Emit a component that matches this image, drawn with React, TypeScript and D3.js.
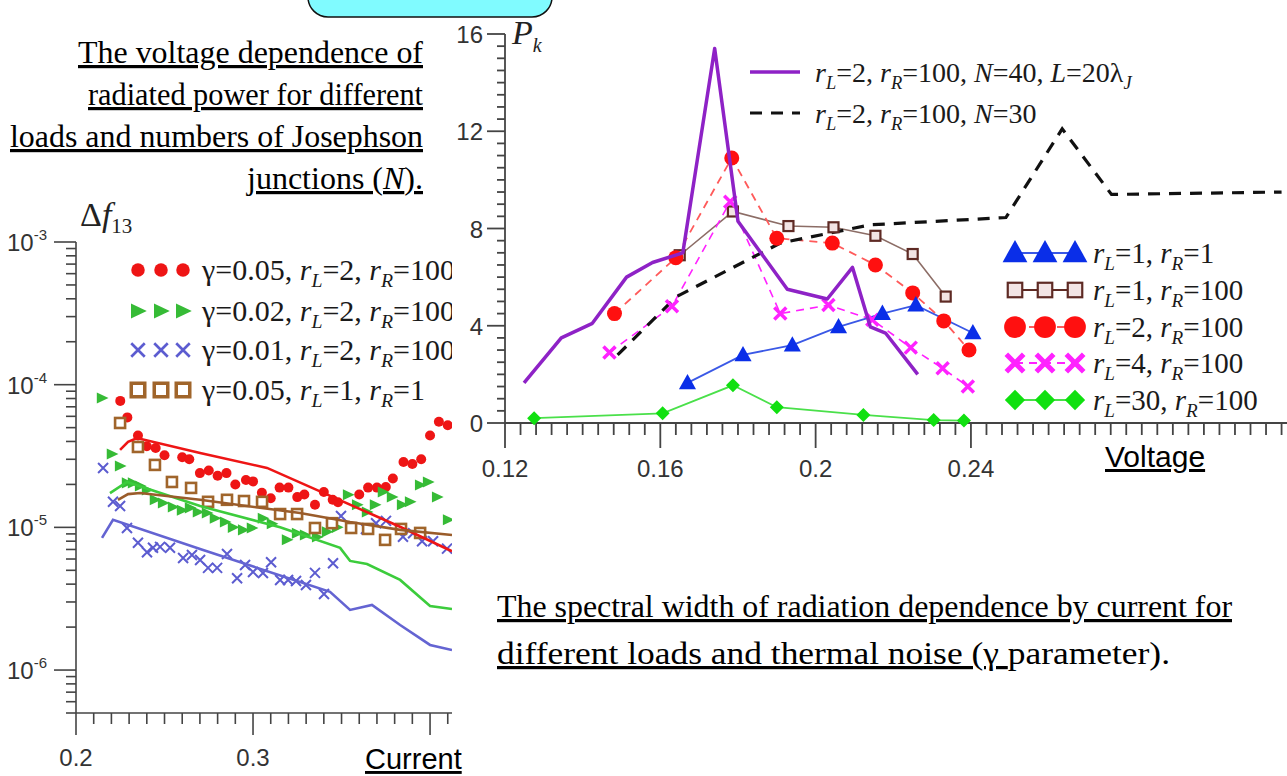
import * as d3 from "d3";

type P = [number, number];

// ---------- right panel: radiated power P_k vs voltage ----------
const pkN40: P[] = [
  [0.1249, 1.65], [0.1345, 3.5], [0.1425, 4.1], [0.1513, 6.0], [0.158, 6.6], [0.1658, 7.0],
  [0.174, 15.4], [0.18, 8.3], [0.1927, 5.5], [0.203, 5.1], [0.2095, 6.4], [0.2141, 3.95],
  [0.218, 3.7], [0.2263, 2.0],
];
const pkN30: P[] = [
  [0.149, 2.8], [0.1642, 5.2], [0.1909, 7.4], [0.2141, 8.15], [0.249, 8.45],
  [0.2635, 12.1], [0.2762, 9.4], [0.32, 9.5],
];
const pkRL1RR1: P[] = [
  [0.167, 1.65], [0.1813, 2.8], [0.194, 3.2], [0.2059, 3.95], [0.2172, 4.5], [0.2258, 4.85], [0.2405, 3.7],
];
const pkRL1RR100: P[] = [
  [0.165, 6.9], [0.1787, 8.7], [0.193, 8.1], [0.2046, 8.05], [0.2154, 7.7], [0.225, 6.95], [0.2335, 5.2],
];
const pkRL2RR100: P[] = [
  [0.1482, 4.5], [0.164, 6.8], [0.1784, 10.9], [0.19, 7.6], [0.2043, 7.4], [0.2154, 6.5],
  [0.225, 5.35], [0.233, 4.2], [0.2395, 3.0],
];
const pkRL4RR100: P[] = [
  [0.1469, 2.9], [0.163, 4.8], [0.178, 9.1], [0.1909, 4.5], [0.2033, 4.85], [0.2146, 4.25],
  [0.2245, 3.1], [0.2327, 2.25], [0.2392, 1.5],
];
const pkRL30RR100: P[] = [
  [0.1275, 0.2], [0.1606, 0.4], [0.1787, 1.55], [0.19, 0.65], [0.2123, 0.33], [0.2304, 0.12], [0.2382, 0.1],
];

const pkYTicks = [0, 4, 8, 12, 16];
const pkXTicks = [0.12, 0.16, 0.2, 0.24];

// ---------- left panel: spectral width vs current (log) ----------
const dfG05Dots: P[] = [
  [0.225, 7.7e-5], [0.229, 5.9e-5], [0.235, 4.4e-5], [0.24, 3.7e-5], [0.245, 3.6e-5], [0.25, 3.2e-5],
  [0.26, 3.1e-5], [0.264, 3.0e-5], [0.27, 2.4e-5], [0.275, 2.5e-5], [0.28, 2.3e-5], [0.285, 2.4e-5],
  [0.29, 2.0e-5], [0.296, 2.15e-5], [0.3, 2.1e-5], [0.305, 1.75e-5], [0.31, 1.6e-5], [0.315, 1.9e-5],
  [0.32, 1.9e-5], [0.325, 1.63e-5], [0.329, 1.7e-5], [0.335, 1.44e-5], [0.34, 1.77e-5], [0.345, 1.56e-5],
  [0.348, 1.5e-5], [0.36, 1.7e-5], [0.365, 1.9e-5], [0.37, 1.9e-5], [0.375, 1.92e-5], [0.379, 2.2e-5],
  [0.385, 2.87e-5], [0.39, 2.78e-5], [0.395, 3.0e-5], [0.4, 4.4e-5], [0.405, 5.5e-5], [0.41, 5.2e-5],
];
const dfG02Dots: P[] = [
  [0.2147, 8.07e-5], [0.2203, 3.27e-5], [0.2249, 2.69e-5], [0.2288, 2.05e-5], [0.2322, 2.05e-5],
  [0.2362, 1.95e-5], [0.2401, 1.83e-5], [0.2446, 1.56e-5], [0.2492, 1.48e-5], [0.2548, 1.39e-5],
  [0.2599, 1.32e-5], [0.2644, 1.37e-5], [0.2689, 1.28e-5], [0.274, 1.26e-5], [0.2785, 1.16e-5],
  [0.2842, 1.09e-5], [0.2887, 1.0e-5], [0.2944, 9.6e-6], [0.2994, 9.9e-6], [0.3056, 1.16e-5],
  [0.3107, 1.06e-5], [0.3192, 8.2e-6], [0.3249, 9.1e-6], [0.3294, 8.85e-6], [0.3362, 8.57e-6],
  [0.3418, 9.3e-6], [0.3475, 1.0e-5], [0.3537, 1.69e-5], [0.3588, 1.44e-5], [0.3644, 1.28e-5],
  [0.3689, 1.44e-5], [0.3734, 1.77e-5], [0.3785, 1.63e-5], [0.3842, 1.44e-5], [0.3887, 1.51e-5],
  [0.3944, 1.98e-5], [0.3989, 2.08e-5], [0.404, 1.63e-5], [0.4102, 1.13e-5],
];
const dfG01Dots: P[] = [
  [0.2153, 2.61e-5], [0.2209, 1.51e-5], [0.2249, 1.41e-5], [0.2288, 9.9e-6], [0.235, 7.8e-6],
  [0.2401, 6.7e-6], [0.2435, 7.2e-6], [0.2475, 7.3e-6], [0.2531, 7.2e-6], [0.2605, 6.1e-6],
  [0.2655, 6.4e-6], [0.2701, 5.9e-6], [0.2746, 5.2e-6], [0.2797, 5.2e-6], [0.2853, 6.5e-6],
  [0.291, 4.4e-6], [0.2955, 5.45e-6], [0.3, 4.87e-6], [0.3056, 4.79e-6], [0.3102, 5.7e-6],
  [0.3153, 4.28e-6], [0.3198, 4.28e-6], [0.3243, 4.21e-6], [0.3299, 3.95e-6], [0.335, 4.8e-6],
  [0.3401, 3.41e-6], [0.3452, 5.6e-6], [0.3497, 1.2e-5], [0.3554, 9.9e-6], [0.3638, 9.75e-6],
  [0.3695, 1.07e-5], [0.3751, 1.11e-5], [0.3847, 8.6e-6], [0.3904, 9.1e-6], [0.3955, 8.0e-6],
  [0.4017, 8.0e-6], [0.4096, 7.1e-6],
];
const dfG05R1Dots: P[] = [
  [0.2249, 5.39e-5], [0.235, 3.66e-5], [0.2446, 2.74e-5], [0.2542, 2.08e-5], [0.265, 1.89e-5],
  [0.2746, 1.51e-5], [0.2853, 1.56e-5], [0.2949, 1.53e-5], [0.3051, 1.51e-5], [0.3153, 1.24e-5],
  [0.3249, 1.24e-5], [0.335, 9.9e-6], [0.3446, 1.07e-5], [0.3554, 9.9e-6], [0.365, 9.75e-6],
  [0.3746, 8.17e-6], [0.3836, 9.75e-6], [0.3944, 9.14e-6],
];
const dfG05Line: P[] = [
  [0.2249, 3.49e-5], [0.2294, 3.97e-5], [0.2345, 4.23e-5], [0.2701, 3.32e-5], [0.3079, 2.61e-5],
  [0.3452, 1.63e-5], [0.383, 1.01e-5], [0.4124, 6.8e-6],
];
const dfG02Line: P[] = [
  [0.2192, 1.74e-5], [0.2288, 2.08e-5], [0.2701, 1.41e-5], [0.3153, 1.0e-5], [0.3492, 7.18e-6],
  [0.3548, 5.82e-6], [0.3644, 5.54e-6], [0.3831, 4.28e-6], [0.4, 2.81e-6], [0.4124, 2.68e-6],
];
const dfG01Line: P[] = [
  [0.2147, 8.43e-6], [0.2209, 1.13e-5], [0.2701, 7.06e-6], [0.3435, 3.53e-6], [0.3548, 2.64e-6],
  [0.3672, 2.86e-6], [0.3831, 2.07e-6], [0.4, 1.5e-6], [0.4124, 1.38e-6],
];
const dfG05R1Line: P[] = [
  [0.2237, 1.56e-5], [0.2294, 1.71e-5], [0.2362, 1.74e-5], [0.2701, 1.56e-5], [0.3266, 1.26e-5],
  [0.3548, 1.09e-5], [0.3831, 9.6e-6], [0.4124, 8.85e-6],
];

const dfXTicks = [0.2, 0.3];
const dfDecades = [-6, -5, -4, -3];

const SERIF = "'Liberation Serif', 'Times New Roman', serif";
const SANS = "'Liberation Sans', Arial, sans-serif";

// scales
const xR = d3.scaleLinear().domain([0.12, 0.3214]).range([505, 1287]);
const yR = d3.scaleLinear().domain([0, 16]).range([423, 34]);
const xL = d3.scaleLinear().domain([0.2, 0.4124]).range([76, 452]);
const yL = d3.scaleLog().domain([5e-7, 1e-3]).range([713, 242]);

type Part = [string, string?];

function Rich({ x, y, parts, size, anchor = "start", under = false }: {
  x: number; y: number; parts: Part[]; size: number; anchor?: string; under?: boolean;
}) {
  let shifted = false;
  const spans = parts.map((p, i) => {
    const [t, kind = ""] = p;
    const sub = kind.includes("s");
    let dy = 0;
    if (sub && !shifted) { dy = size * 0.24; shifted = true; }
    else if (!sub && shifted) { dy = -size * 0.24; shifted = false; }
    return (
      <tspan key={i} dy={dy || undefined} fontStyle={kind.includes("i") ? "italic" : undefined}
        fontSize={sub ? size * 0.66 : undefined}>{t}</tspan>
    );
  });
  return (
    <text x={x} y={y} fontFamily={SERIF} fontSize={size} textAnchor={anchor} fill="#1a1a1a"
      style={under ? { textDecoration: "underline" } : undefined}>{spans}</text>
  );
}

const tri = (s: number) => `M0,${-s}L${s * 0.95},${s * 0.7}L${-s * 0.95},${s * 0.7}Z`;
const triR = (s: number) => `M${-s * 0.8},${-s * 0.85}L${s},0L${-s * 0.8},${s * 0.85}Z`;
const diamond = (s: number) => `M0,${-s}L${s},0L0,${s}L${-s},0Z`;
const cross = (s: number) => `M${-s},${-s}L${s},${s}M${-s},${s}L${s},${-s}`;

const lineR = d3.line<P>().x((d) => xR(d[0])).y((d) => yR(d[1]));
const lineL = d3.line<P>().x((d) => xL(d[0])).y((d) => yL(d[1]));

const legendRight = [
  { parts: [["r", "i"], ["L", "is"], ["=1, "], ["r", "i"], ["R", "is"], ["=1"]] as Part[], kind: "tri" },
  { parts: [["r", "i"], ["L", "is"], ["=1, "], ["r", "i"], ["R", "is"], ["=100"]] as Part[], kind: "sq" },
  { parts: [["r", "i"], ["L", "is"], ["=2, "], ["r", "i"], ["R", "is"], ["=100"]] as Part[], kind: "circ" },
  { parts: [["r", "i"], ["L", "is"], ["=4, "], ["r", "i"], ["R", "is"], ["=100"]] as Part[], kind: "x" },
  { parts: [["r", "i"], ["L", "is"], ["=30, "], ["r", "i"], ["R", "is"], ["=100"]] as Part[], kind: "dia" },
];
const legendLeft = [
  { parts: [["γ=0.05, "], ["r", "i"], ["L", "is"], ["=2, "], ["r", "i"], ["R", "is"], ["=100"]] as Part[], kind: "circ" },
  { parts: [["γ=0.02, "], ["r", "i"], ["L", "is"], ["=2, "], ["r", "i"], ["R", "is"], ["=100"]] as Part[], kind: "tri" },
  { parts: [["γ=0.01, "], ["r", "i"], ["L", "is"], ["=2, "], ["r", "i"], ["R", "is"], ["=100"]] as Part[], kind: "x" },
  { parts: [["γ=0.05, "], ["r", "i"], ["L", "is"], ["=1, "], ["r", "i"], ["R", "is"], ["=1"]] as Part[], kind: "sq" },
];

const C = {
  purple: "#8e22c6", red: "#ff1010", redLine: "#ff5a5a", mag: "#ff22ff", brownSq: "#5e2a24",
  brownLine: "#8c6d66", blue: "#0a2ee8", blueLine: "#3a58e6", green: "#10e010", greenLine: "#4ae04a",
  lRed: "#ee1515", lGreen: "#36bb36", lBlue: "#5c5cd0", lBrown: "#a0652b",
};

function RightMarker({ kind, x, y, big }: { kind: string; x: number; y: number; big?: boolean }) {
  const k = big ? 1.45 : 1;
  const t = `translate(${x},${y})`;
  if (kind === "tri") return <path transform={t} d={tri(9 * k)} fill={C.blue} />;
  if (kind === "sq") return <rect x={x - 5 * k} y={y - 5 * k} width={10 * k} height={10 * k} fill="#f2e4e4" stroke={C.brownSq} strokeWidth={2.2} />;
  if (kind === "circ") return <circle cx={x} cy={y} r={7.5 * k} fill={C.red} />;
  if (kind === "x") return <path transform={t} d={cross(6 * k)} stroke={C.mag} strokeWidth={3.5 * k} fill="none" />;
  return <path transform={t} d={diamond(7 * k)} fill={C.green} />;
}

function LeftMarker({ kind, x, y, big }: { kind: string; x: number; y: number; big?: boolean }) {
  const k = big ? 1.35 : 1;
  const t = `translate(${x},${y})`;
  if (kind === "circ") return <circle cx={x} cy={y} r={5 * k} fill={C.lRed} />;
  if (kind === "tri") return <path transform={t} d={triR(6.5 * k)} fill={C.lGreen} />;
  if (kind === "x") return <path transform={t} d={cross(5 * k)} stroke={C.lBlue} strokeWidth={2 * k} fill="none" />;
  return <rect x={x - 5 * k} y={y - 5 * k} width={10 * k} height={10 * k} fill="#fff" stroke={C.lBrown} strokeWidth={2.6 * k} />;
}

export default function App() {
  const yMinorR = d3.range(0, 16.001, 0.5);
  const xMinorR = d3.range(0, 51).map((i) => 0.12 + i * 0.004);
  const xMinorL = d3.range(0, 22).map((i) => 0.2 + i * 0.01);
  const yMinorL: number[] = [];
  for (let e = -7; e <= -4; e++) for (let m = 2; m <= 9; m++) {
    const v = m * Math.pow(10, e);
    if (v >= 5e-7 && v <= 1e-3) yMinorL.push(v);
  }

  const rightSeries = [
    { data: pkRL1RR100, kind: "sq", stroke: C.brownLine, dash: undefined, w: 1.6 },
    { data: pkRL2RR100, kind: "circ", stroke: C.redLine, dash: "8 6", w: 1.8 },
    { data: pkRL4RR100, kind: "x", stroke: C.mag, dash: "8 6", w: 1.6 },
    { data: pkRL1RR1, kind: "tri", stroke: C.blueLine, dash: undefined, w: 1.8 },
    { data: pkRL30RR100, kind: "dia", stroke: C.greenLine, dash: undefined, w: 1.8 },
  ];
  const legendStroke: Record<string, { s: string; d?: string }> = {
    tri: { s: C.blueLine }, sq: { s: C.brownSq }, circ: { s: C.redLine, d: "8 6" },
    x: { s: C.mag, d: "8 6" }, dia: { s: C.greenLine },
  };

  const leftSeries = [
    { dots: dfG05Dots, line: dfG05Line, kind: "circ", color: C.lRed },
    { dots: dfG02Dots, line: dfG02Line, kind: "tri", color: "#3ccc3c" },
    { dots: dfG01Dots, line: dfG01Line, kind: "x", color: "#6464d2" },
    { dots: dfG05R1Dots, line: dfG05R1Line, kind: "sq", color: "#9a5c2a" },
  ];

  const legRowsR = [253, 290, 327, 363, 400];
  const legColsR = [1015, 1045, 1075];
  const legRowsL = [270, 311, 350, 390];
  const legColsL = [138, 161, 183];

  return (
    <svg width={1287} height={776} style={{ display: "block", position: "absolute", left: 0, top: 0, background: "#fff" }}>
      <defs>
        <clipPath id="clipLeft"><rect x={0} y={0} width={452} height={776} /></clipPath>
      </defs>

      {/* header box */}
      <rect x={308} y={-30} width={244} height={47} rx={20} fill="#80fbff" stroke="#111" strokeWidth={1.5} />

      {/* top-left caption */}
      <g fontFamily={SERIF} fontSize={32} textAnchor="end" fill="#000" style={{ textDecoration: "underline" }}>
        <text x={423} y={63} textLength={345} lengthAdjust="spacingAndGlyphs">The voltage dependence of</text>
        <text x={423} y={105} textLength={335} lengthAdjust="spacingAndGlyphs">radiated power for different</text>
        <text x={423} y={147} textLength={413} lengthAdjust="spacingAndGlyphs">loads and numbers of Josephson</text>
        <text x={423} y={189}>junctions (<tspan fontStyle="italic">N</tspan>).</text>
      </g>

      {/* bottom caption */}
      <g fontFamily={SERIF} fontSize={32} fill="#000">
        <text x={497} y={617} textLength={735} lengthAdjust="spacingAndGlyphs" style={{ textDecoration: "underline" }}>
          The spectral width of radiation dependence by current for
        </text>
        <text x={497} y={664} textLength={673} lengthAdjust="spacingAndGlyphs">
          <tspan style={{ textDecoration: "underline" }}>different loads and thermal noise (γ </tspan>parameter).
        </text>
      </g>

      {/* ---------- left panel ---------- */}
      <g clipPath="url(#clipLeft)">
        <g stroke="#444" strokeWidth={1.6}>
          <line x1={76} x2={76} y1={242} y2={713} />
          <line x1={76} x2={460} y1={713} y2={713} />
          {yMinorL.map((v) => <line key={"ym" + v} x1={66} x2={76} y1={yL(v)} y2={yL(v)} />)}
          {dfDecades.map((e) => <line key={"yd" + e} x1={54} x2={76} y1={yL(Math.pow(10, e))} y2={yL(Math.pow(10, e))} />)}
          {xMinorL.map((v, i) => (
            <line key={"xm" + i} x1={xL(v)} x2={xL(v)} y1={713} y2={i % 10 === 0 ? 735 : 724} />
          ))}
        </g>
        <g fontFamily={SANS} fontSize={24} fill="#333">
          {dfDecades.map((e) => (
            <text key={"yl" + e} x={47} y={yL(Math.pow(10, e)) + 9} textAnchor="end">
              10<tspan fontSize={15} dy={-11}>{e}</tspan>
            </text>
          ))}
          {dfXTicks.map((v) => <text key={"xl" + v} x={xL(v)} y={766} textAnchor="middle">{v.toFixed(1)}</text>)}
        </g>
        <text x={80} y={226} fontFamily={SERIF} fontSize={34} fill="#222">Δ<tspan fontStyle="italic">f</tspan>
          <tspan fontSize={21} dy={7}>13</tspan></text>

        {leftSeries.map((s, i) => (
          <g key={"ls" + i}>
            {s.dots.map((d, j) => <LeftMarker key={j} kind={s.kind} x={xL(d[0])} y={yL(d[1])} />)}
          </g>
        ))}
        {leftSeries.map((s, i) => (
          <path key={"ll" + i} d={lineL(s.line) || ""} fill="none" stroke={s.color} strokeWidth={2.6} />
        ))}

        {legendLeft.map((l, i) => (
          <g key={"lg" + i}>
            {legColsL.map((cx) => <LeftMarker key={cx} kind={l.kind} x={cx} y={legRowsL[i]} big />)}
            <Rich x={202} y={legRowsL[i] + 10} parts={l.parts} size={30} />
          </g>
        ))}
      </g>
      <text x={365} y={769} fontFamily={SANS} fontSize={29} fill="#000" style={{ textDecoration: "underline" }}>Current</text>

      {/* ---------- right panel ---------- */}
      <g stroke="#444" strokeWidth={1.8}>
        <line x1={505} x2={505} y1={34} y2={423} />
        <line x1={505} x2={1287} y1={423} y2={423} />
        {yMinorR.map((v) => (
          <line key={"rym" + v} x1={v % 4 === 0 ? 487 : 497} x2={505} y1={yR(v)} y2={yR(v)} />
        ))}
        {xMinorR.map((v, i) => (
          <line key={"rxm" + i} x1={xR(v)} x2={xR(v)} y1={423} y2={i % 10 === 0 && i <= 30 ? 448 : 435} />
        ))}
      </g>
      <g fontFamily={SANS} fontSize={24} fill="#333">
        {pkYTicks.map((v) => <text key={"ryl" + v} x={483} y={yR(v) + 9} textAnchor="end">{v}</text>)}
        {pkXTicks.map((v) => (
          <text key={"rxl" + v} x={xR(v)} y={477} textAnchor="middle">{String(v)}</text>
        ))}
      </g>
      <text x={1105} y={467} fontFamily={SANS} fontSize={30} fill="#000" style={{ textDecoration: "underline" }}>Voltage</text>
      <text x={512} y={44} fontFamily={SERIF} fontSize={34} fontStyle="italic" fill="#222">P
        <tspan fontSize={20} dy={8}>k</tspan></text>

      {rightSeries.map((s, i) => (
        <path key={"rl" + i} d={lineR(s.data) || ""} fill="none" stroke={s.stroke} strokeWidth={s.w}
          strokeDasharray={s.dash} />
      ))}
      <path d={lineR(pkN30) || ""} fill="none" stroke="#111" strokeWidth={3.2} strokeDasharray="12 9" />
      {rightSeries.map((s, i) => (
        <g key={"rm" + i}>
          {s.data.map((d, j) => <RightMarker key={j} kind={s.kind} x={xR(d[0])} y={yR(d[1])} />)}
        </g>
      ))}
      <path d={lineR(pkN40) || ""} fill="none" stroke={C.purple} strokeWidth={3.5} strokeLinejoin="round" />

      {/* top legend */}
      <line x1={750} x2={800} y1={72} y2={72} stroke={C.purple} strokeWidth={3.5} />
      <line x1={750} x2={800} y1={113} y2={113} stroke="#111" strokeWidth={3.2} strokeDasharray="12 9" />
      <Rich x={815} y={82} size={28}
        parts={[["r", "i"], ["L", "is"], ["=2, "], ["r", "i"], ["R", "is"], ["=100, "], ["N", "i"], ["=40, "], ["L", "i"], ["=20λ"], ["J", "is"]]} />
      <Rich x={815} y={123} size={28}
        parts={[["r", "i"], ["L", "is"], ["=2, "], ["r", "i"], ["R", "is"], ["=100, "], ["N", "i"], ["=30"]]} />

      {/* marker legend */}
      {legendRight.map((l, i) => (
        <g key={"rg" + i}>
          <line x1={legColsR[0]} x2={legColsR[2]} y1={legRowsR[i]} y2={legRowsR[i]}
            stroke={legendStroke[l.kind].s} strokeWidth={2} strokeDasharray={legendStroke[l.kind].d} />
          {legColsR.map((cx) => <RightMarker key={cx} kind={l.kind} x={cx} y={legRowsR[i]} big />)}
          <Rich x={1093} y={legRowsR[i] + 10} parts={l.parts} size={29} />
        </g>
      ))}
    </svg>
  );
}
